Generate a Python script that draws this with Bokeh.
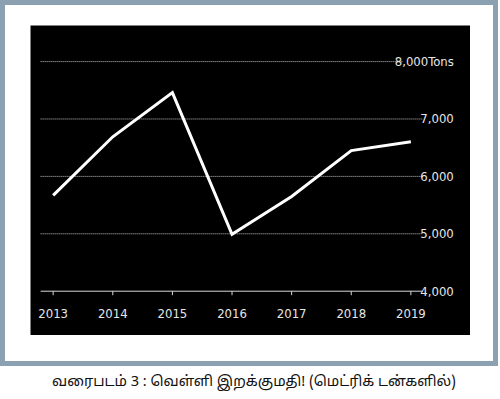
from bokeh.plotting import figure
from bokeh.layouts import column
from bokeh.models import Div
from bokeh.core.properties import value
from bokeh.embed import file_html
from bokeh.resources import INLINE

# ---- data ----
years = [2013, 2014, 2015, 2016, 2017, 2018, 2019]
silver_imports = [5670, 6690, 7460, 4990, 5650, 6450, 6605]
y_ticks = [4000, 5000, 6000, 7000, 8000]
y_tick_labels = ["4,000", "5,000", "6,000", "7,000", "8,000Tons"]
year_labels = ["2013", "2014", "2015", "2016", "2017", "2018", "2019"]
caption = "வரைபடம் 3 : வெள்ளி இறக்குமதி! (மெட்ரிக் டன்களில்)"

FONT = "Liberation Sans Narrow, DejaVu Sans Condensed, sans-serif"
TXT = "#e6e6e6"
AXIS_COL = "#d8d8d8"
GRID_X0, GRID_X1, GRID_X1_TOP = 2012.79, 2019.2, 2018.87
LABEL_X = 2019.72
BASE = y_ticks[0]
TICK_LEN = 70        # data units (~4 px)
YEAR_LABEL_DROP = 395  # data units (~23 px)

p = figure(width=440, height=310, output_backend="svg", toolbar_location=None,
           x_range=(2012.62, 2020.0), y_range=(3228, 8629),
           x_axis_location=None, y_axis_location=None,
           min_border_left=0, min_border_right=0, min_border_top=0,
           min_border_bottom=0,
           background_fill_color="black", border_fill_color="black",
           outline_line_color=None)
p.grid.visible = False

# dotted gridlines
grid_vals = y_ticks[1:]
p.segment(x0=[GRID_X0] * len(grid_vals),
          x1=[GRID_X1] * (len(grid_vals) - 1) + [GRID_X1_TOP],
          y0=grid_vals, y1=grid_vals,
          line_color="#c4c4c4", line_width=1, line_dash="1 1")

# x axis: baseline at 4,000, ticks and year labels
p.segment(x0=[GRID_X0], x1=[GRID_X1], y0=[BASE], y1=[BASE],
          line_color=AXIS_COL, line_width=1)
p.segment(x0=years, x1=years, y0=[BASE] * len(years),
          y1=[BASE - TICK_LEN] * len(years), line_color=AXIS_COL, line_width=1)
p.text(x=years, y=[BASE - YEAR_LABEL_DROP] * len(years), text=year_labels,
       text_align="center", text_baseline="middle", text_color=TXT,
       text_font=value(FONT), text_font_size="13px")

# right-hand value labels
p.text(x=[LABEL_X] * len(y_ticks), y=y_ticks, text=y_tick_labels,
       text_align="right", text_baseline="middle", text_color=TXT,
       text_font=value(FONT), text_font_size="13px")

p.line(years, silver_imports, line_color="white", line_width=3, line_join="miter")

box = column(p, styles={"background-color": "white",
                        "border": "5px solid #8ba1b1",
                        "padding": "20px 23px 26px 25px"})
cap = Div(text=caption, width=498, height=30,
          styles={"text-align": "center", "font-size": "14.5px",
                  "font-family": "Noto Sans Tamil, Noto Sans, sans-serif",
                  "color": "#111111", "padding-top": "1px"})
layout = column(box, cap)

open("out.html", "w").write(file_html(layout, INLINE))
